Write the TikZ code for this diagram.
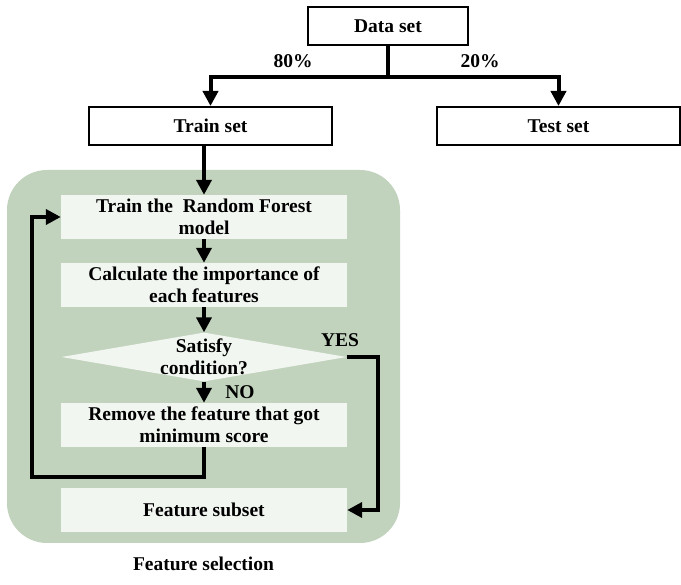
\documentclass[tikz,border=0pt]{standalone}
\usepackage{fontspec}
\setmainfont{Liberation Serif}
\usetikzlibrary{arrows.meta, positioning, shapes.geometric}
\definecolor{regiongreen}{RGB}{193,211,189}
\definecolor{stepfill}{RGB}{242,246,241}

\begin{document}
\begin{tikzpicture}[
    x=1pt, y=-1pt,
    setbox/.style={
        draw,
        line width=2pt,
        minimum width=243pt,
        minimum height=38pt,
        inner sep=0pt,
        font=\fontsize{19.5}{22}\selectfont\bfseries,
    },
    stepbox/.style={
        fill=stepfill,
        minimum width=286pt,
        minimum height=44pt,
        inner sep=0pt,
        align=center,
        font=\fontsize{19.5}{22}\selectfont\bfseries,
    },
    flow/.style={
        line width=4pt,
        -{Triangle[width=15pt,length=15pt]},
    },
    tag/.style={
        font=\fontsize{19.5}{22}\selectfont\bfseries,
        inner sep=0pt,
    }
]
    \useasboundingbox (0,0) rectangle (681,585);

    % Split of the data
    \node[setbox, minimum width=160pt] (dataset) at (388,26.5) {Data set};
    \node[setbox] (trainset) at (210.5,126) {Train set};
    \node[setbox] (testset) at (558.5,126) {Test set};
    \coordinate (split) at (388,77);
    \draw[line width=4pt] (dataset.south) -- (split);
    \draw[flow] (split) -| (trainset.north);
    \draw[flow] (split) -| (testset.north);
    \node[tag] at (293,61) {80\%};
    \node[tag] at (480,61) {20\%};

    % Feature selection region
    \node[fill=regiongreen, rounded corners=40pt, minimum width=393pt,
        minimum height=373pt] (region) at (203.5,356.5) {};
    \node[tag, below=14pt of region] {Feature selection};

    % Steps
    \node[stepbox] (trainrf) at (204,217) {Train the \ Random Forest\\model};
    \node[stepbox] (calcimp) at (204,285) {Calculate the importance of\\each features};
    \node[diamond, fill=stepfill, minimum width=285pt, minimum height=49pt,
        inner sep=0pt] (satisfy) at (204,357) {};
    \node[tag, align=center] at (satisfy) {Satisfy\\condition?};
    \node[stepbox] (removefeat) at (204,425) {Remove the feature that got\\minimum score};
    \node[stepbox] (subset) at (204,510) {Feature subset};

    \draw[flow] (trainset.south -| trainrf.north) -- (trainrf.north);
    \draw[flow] (trainrf) -- (calcimp);
    \draw[flow] (calcimp) -- (satisfy);
    \draw[flow] (satisfy) -- (removefeat);

    % Loop back and exit
    \coordinate (loopleft) at (32,477);
    \coordinate (yesright) at (378,357);
    \draw[flow] (removefeat.south) |- (loopleft) |- (trainrf.west);
    \draw[flow] (satisfy.east) -- (yesright) |- (subset.east);
    \node[tag] at (340,340) {YES};
    \node[tag] at (240,392) {NO};
\end{tikzpicture}
\end{document}
